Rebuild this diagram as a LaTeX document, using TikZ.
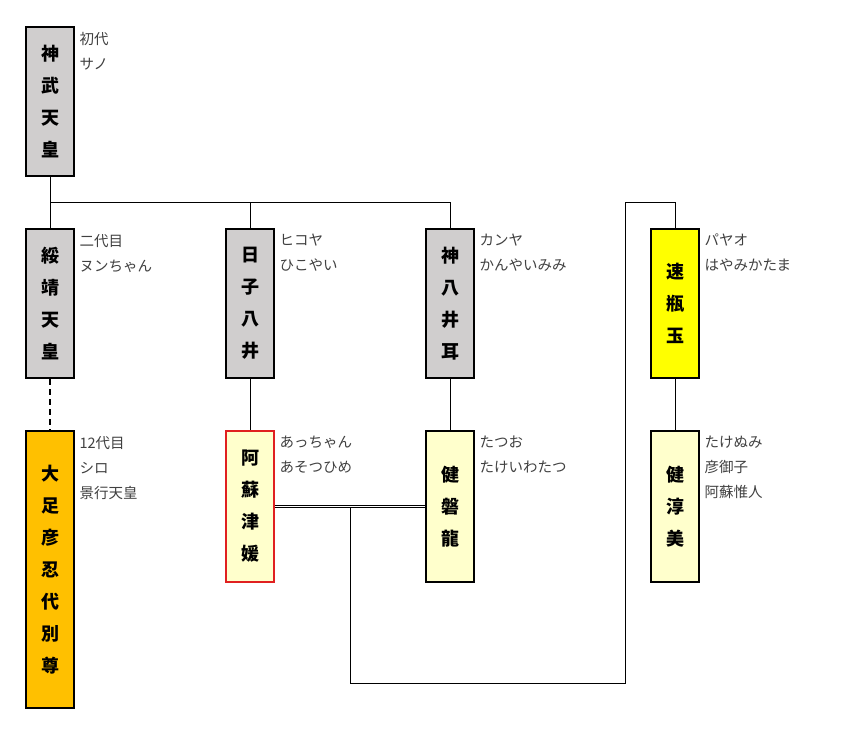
\documentclass[tikz,border=0pt]{standalone}
\usepackage{fontspec}
\usepackage{tikz}
\usepackage{xcolor}
\usetikzlibrary{calc}
\setmainfont{Noto Sans CJK JP}
\definecolor{FontColor}{HTML}{000000}
\definecolor{NoteColor}{HTML}{404040}
\definecolor{GrayNC}{HTML}{D0CECE}
\definecolor{OrangeNC}{HTML}{FFC000}
\definecolor{YellowNC}{HTML}{FFFF00}
\definecolor{PaleNC}{HTML}{FFFFCC}
\definecolor{RedNC}{HTML}{E02020}
\newcommand\nodejimmu{神\\武\\天\\皇}
\newcommand\nodesuizei{綏\\靖\\天\\皇}
\newcommand\nodehikoya{日\\子\\八\\井}
\newcommand\nodekanya{神\\八\\井\\耳}
\newcommand\nodehayami{速\\瓶\\玉}
\newcommand\nodeotarashi{大\\足\\彦\\忍\\代\\別\\尊}
\newcommand\nodeaso{阿\\蘇\\津\\媛}
\newcommand\nodetakeiwa{健\\磐\\龍}
\newcommand\nodetakenu{健\\淳\\美}
\tikzstyle{mynodestyle} = [rectangle, minimum width=48pt, minimum height=149pt, inner sep=0pt, align=center, text=FontColor, font=\fontsize{18pt}{32pt}\selectfont\bfseries, draw=black, line width=2pt]
\tikzstyle{gn} = [mynodestyle, fill=GrayNC]
\tikzstyle{orn} = [mynodestyle, fill=OrangeNC, minimum height=277pt]
\tikzstyle{yn} = [mynodestyle, fill=YellowNC]
\tikzstyle{pn} = [mynodestyle, fill=PaleNC, minimum height=151pt]
\tikzstyle{rn} = [pn, draw=RedNC]
\tikzstyle{note} = [anchor=north west, inner sep=0pt, align=left, text=NoteColor, font=\fontsize{14.5pt}{25pt}\selectfont]
\tikzset{every picture/.style={line width=1pt}}

\begin{document}
\begin{tikzpicture}[x=1pt, y=-1pt]
\useasboundingbox (0,0) rectangle (851,735);
\node[gn] (jimmu) at (50, 101.5) {\nodejimmu};
\node[gn] (suizei) at (50, 303.5) {\nodesuizei};
\node[gn] (hikoya) at (250, 303.5) {\nodehikoya};
\node[gn] (kanya) at (450, 303.5) {\nodekanya};
\node[yn] (hayami) at (675, 303.5) {\nodehayami};
\node[orn] (otarashi) at (50, 569.5) {\nodeotarashi};
\node[rn] (aso) at (250, 506.5) {\nodeaso};
\node[pn] (takeiwa) at (450, 506.5) {\nodetakeiwa};
\node[pn] (takenu) at (675, 506.5) {\nodetakenu};
% notes
\node[note] (njimmu) at (79, 31.5) {初代\\サノ};
\node[note] (nsuizei) at (79, 233.5) {二代目\\ヌンちゃん};
\node[note] (nhikoya) at (279, 233.5) {ヒコヤ\\ひこやい};
\node[note] (nkanya) at (479, 233.5) {カンヤ\\かんやいみみ};
\node[note] (nhayami) at (704, 233.5) {パヤオ\\はやみかたま};
\node[note] (notarashi) at (79, 435.5) {12代目\\シロ\\景行天皇};
\node[note] (naso) at (279, 435.5) {あっちゃん\\あそつひめ};
\node[note] (ntakeiwa) at (479, 435.5) {たつお\\たけいわたつ};
\node[note] (ntakenu) at (704, 435.5) {たけぬみ\\彦御子\\阿蘇惟人};
% lines
\coordinate (bar) at (50, 203);
\coordinate (pair) at ($(aso.east)!0.5!(takeiwa.west)$);
\draw (jimmu) -- (bar) -| (kanya);
\draw (bar) -- (suizei);
\draw (hikoya.north |- bar) -- (hikoya);
\draw [dashed, line width=2pt, dash pattern=on 6pt off 4pt] (suizei) -- (otarashi);
\draw (hikoya) -- (aso);
\draw (kanya) -- (takeiwa);
\draw (hayami) -- (takenu);
\draw (pair) |- (625, 683) -- (625, 203) -| (hayami);
\draw [double, line width=0.8pt, double distance=1.4pt] (aso) -- (takeiwa);
\end{tikzpicture}
\end{document}
